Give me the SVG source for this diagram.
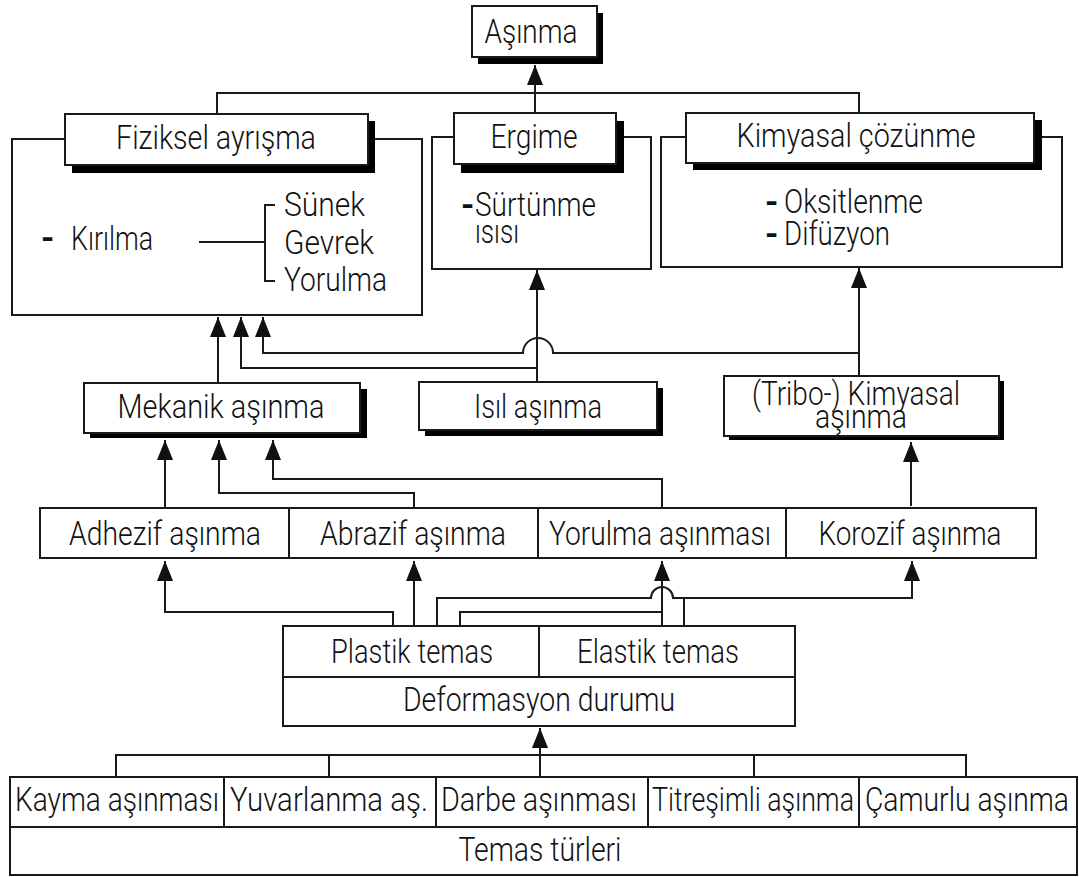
<svg xmlns="http://www.w3.org/2000/svg" width="1079" height="877" viewBox="0 0 1079 877">
<defs>
<marker id="ah" viewBox="0 0 20 16" refX="20" refY="8" markerWidth="20" markerHeight="16" markerUnits="userSpaceOnUse" orient="auto">
<path d="M0,0 L20,8 L0,16 Z" fill="#111"/>
</marker>
</defs>
<style>
.box{fill:#fff;stroke:#1a1a1a;stroke-width:2}
.sh{fill:#000}
.ln{fill:none;stroke:#1a1a1a;stroke-width:2}
.ar{marker-end:url(#ah)}
text{font-family:Roboto,"Liberation Sans",Arial,sans-serif;font-weight:300;font-size:34px;fill:#111}
.c{text-anchor:middle}
.d{font-weight:700}
</style>
<rect width="1079" height="877" fill="#fff"/>

<g id="connectors">
<path class="ln ar" d="M535 113 V65"/>
<path class="ln" d="M217 114 V93 H859 V113"/>
<path class="ln ar" d="M218 383 V317"/>
<path class="ln ar" d="M537 368 H241 V317"/>
<path class="ln ar" d="M859 353 H553 A15 15 0 0 0 523 353 H263 V317"/>
<path class="ln ar" d="M537 382 V270"/>
<path class="ln ar" d="M859 376 V268"/>
<path class="ln ar" d="M165 508 V440"/>
<path class="ln ar" d="M414 508 V493 H219 V440"/>
<path class="ln ar" d="M662 507 V479 H273 V440"/>
<path class="ln ar" d="M911 506 V442"/>
<path class="ln ar" d="M393 626 V612 H165 V561"/>
<path class="ln ar" d="M414 626 V561"/>
<path class="ln ar" d="M662 626 V561"/>
<path class="ln" d="M460 626 V612 H662"/>
<path class="ln ar" d="M437 626 V598 H651 A11 11 0 0 1 673 598 H912 V561"/>
<path class="ln" d="M684 626 V598"/>
<path class="ln ar" d="M540 777 V728"/>
<path class="ln" d="M116 777 V755 H966 V777 M329 777 V755 M754 777 V755"/>
</g>

<g id="asinma">
<rect class="sh" x="478" y="13" width="125" height="51"/>
<rect class="box" x="472" y="6" width="125" height="51"/>
<text class="c" x="531" y="43" textLength="93" lengthAdjust="spacingAndGlyphs">Aşınma</text>
</g>

<g id="fiziksel">
<rect class="box" x="12" y="139" width="410" height="176"/>
<rect class="sh" x="72" y="121" width="303" height="52"/>
<rect class="box" x="65" y="114" width="303" height="51"/>
<text class="c" x="216" y="149" textLength="200" lengthAdjust="spacingAndGlyphs">Fiziksel ayrışma</text>
<text class="d" x="41" y="249">-</text>
<text x="71" y="250" textLength="82" lengthAdjust="spacingAndGlyphs">Kırılma</text>
<path class="ln" d="M199 242 H265 M275 205 H265 V281 H275"/>
<text x="284" y="216" textLength="81" lengthAdjust="spacingAndGlyphs">Sünek</text>
<text x="284" y="254" textLength="90" lengthAdjust="spacingAndGlyphs">Gevrek</text>
<text x="284" y="291" textLength="103" lengthAdjust="spacingAndGlyphs">Yorulma</text>
</g>

<g id="ergime">
<rect class="box" x="432" y="137" width="219" height="132"/>
<rect class="sh" x="461" y="121" width="163" height="52"/>
<rect class="box" x="454" y="113" width="162" height="51"/>
<text class="c" x="534" y="148" textLength="87" lengthAdjust="spacingAndGlyphs">Ergime</text>
<text class="d" x="461" y="216">-</text>
<text x="475" y="216" textLength="121" lengthAdjust="spacingAndGlyphs">Sürtünme</text>
<text x="475" y="243" textLength="44" lengthAdjust="spacingAndGlyphs">ısısı</text>
</g>

<g id="kimyasal">
<rect class="box" x="661" y="137" width="401" height="130"/>
<rect class="sh" x="693" y="120" width="349" height="50"/>
<rect class="box" x="686" y="113" width="348" height="50"/>
<text class="c" x="856" y="147" textLength="239" lengthAdjust="spacingAndGlyphs">Kimyasal çözünme</text>
<text class="d" x="765" y="213">-</text>
<text x="784" y="213" textLength="139" lengthAdjust="spacingAndGlyphs">Oksitlenme</text>
<text class="d" x="765" y="245">-</text>
<text x="784" y="245" textLength="106" lengthAdjust="spacingAndGlyphs">Difüzyon</text>
</g>

<g id="mekanik">
<rect class="sh" x="90" y="389" width="277" height="49"/>
<rect class="box" x="84" y="383" width="276" height="50"/>
<text class="c" x="221" y="418" textLength="207" lengthAdjust="spacingAndGlyphs">Mekanik aşınma</text>
</g>

<g id="isil">
<rect class="sh" x="425" y="388" width="238" height="48"/>
<rect class="box" x="419" y="382" width="238" height="48"/>
<text class="c" x="538" y="418" textLength="128" lengthAdjust="spacingAndGlyphs">Isıl aşınma</text>
</g>

<g id="tribo">
<rect class="sh" x="729" y="381" width="275" height="59"/>
<rect class="box" x="724" y="376" width="275" height="60"/>
<text class="c" x="856" y="405" textLength="208" lengthAdjust="spacingAndGlyphs">(Tribo-) Kimyasal</text>
<text class="c" x="861" y="428" textLength="92" lengthAdjust="spacingAndGlyphs">aşınma</text>
</g>

<g id="adhezif">
<rect class="box" x="40" y="508" width="249" height="50"/>
<text class="c" x="165" y="545" textLength="192" lengthAdjust="spacingAndGlyphs">Adhezif aşınma</text>
</g>
<g id="abrazif">
<rect class="box" x="289" y="508" width="249" height="50"/>
<text class="c" x="413" y="545" textLength="186" lengthAdjust="spacingAndGlyphs">Abrazif aşınma</text>
</g>
<g id="yorulma">
<rect class="box" x="538" y="508" width="248" height="50"/>
<text class="c" x="660" y="545" textLength="222" lengthAdjust="spacingAndGlyphs">Yorulma aşınması</text>
</g>
<g id="korozif">
<rect class="box" x="786" y="508" width="250" height="50"/>
<text class="c" x="910" y="545" textLength="183" lengthAdjust="spacingAndGlyphs">Korozif aşınma</text>
</g>

<g id="plastik">
<rect class="box" x="283" y="626" width="256" height="51"/>
<text class="c" x="412" y="663" textLength="162" lengthAdjust="spacingAndGlyphs">Plastik temas</text>
</g>
<g id="elastik">
<rect class="box" x="539" y="626" width="256" height="51"/>
<text class="c" x="658" y="663" textLength="162" lengthAdjust="spacingAndGlyphs">Elastik temas</text>
</g>
<g id="deformasyon">
<rect class="box" x="283" y="677" width="512" height="49"/>
<text class="c" x="539" y="711" textLength="272" lengthAdjust="spacingAndGlyphs">Deformasyon durumu</text>
</g>

<g id="kayma">
<rect class="box" x="10" y="777" width="214" height="50"/>
<text class="c" x="117" y="811" textLength="204" lengthAdjust="spacingAndGlyphs">Kayma aşınması</text>
</g>
<g id="yuvarlanma">
<rect class="box" x="224" y="777" width="212" height="50"/>
<text class="c" x="329" y="811" textLength="198" lengthAdjust="spacingAndGlyphs">Yuvarlanma aş.</text>
</g>
<g id="darbe">
<rect class="box" x="436" y="777" width="212" height="50"/>
<text class="c" x="539" y="811" textLength="196" lengthAdjust="spacingAndGlyphs">Darbe aşınması</text>
</g>
<g id="titresimli">
<rect class="box" x="648" y="777" width="211" height="50"/>
<text class="c" x="753" y="811" textLength="202" lengthAdjust="spacingAndGlyphs">Titreşimli aşınma</text>
</g>
<g id="camurlu">
<rect class="box" x="859" y="777" width="218" height="50"/>
<text class="c" x="967" y="811" textLength="204" lengthAdjust="spacingAndGlyphs">Çamurlu aşınma</text>
</g>
<g id="temas">
<rect class="box" x="10" y="827" width="1067" height="48"/>
<text class="c" x="540" y="861" textLength="163" lengthAdjust="spacingAndGlyphs">Temas türleri</text>
</g>
</svg>
